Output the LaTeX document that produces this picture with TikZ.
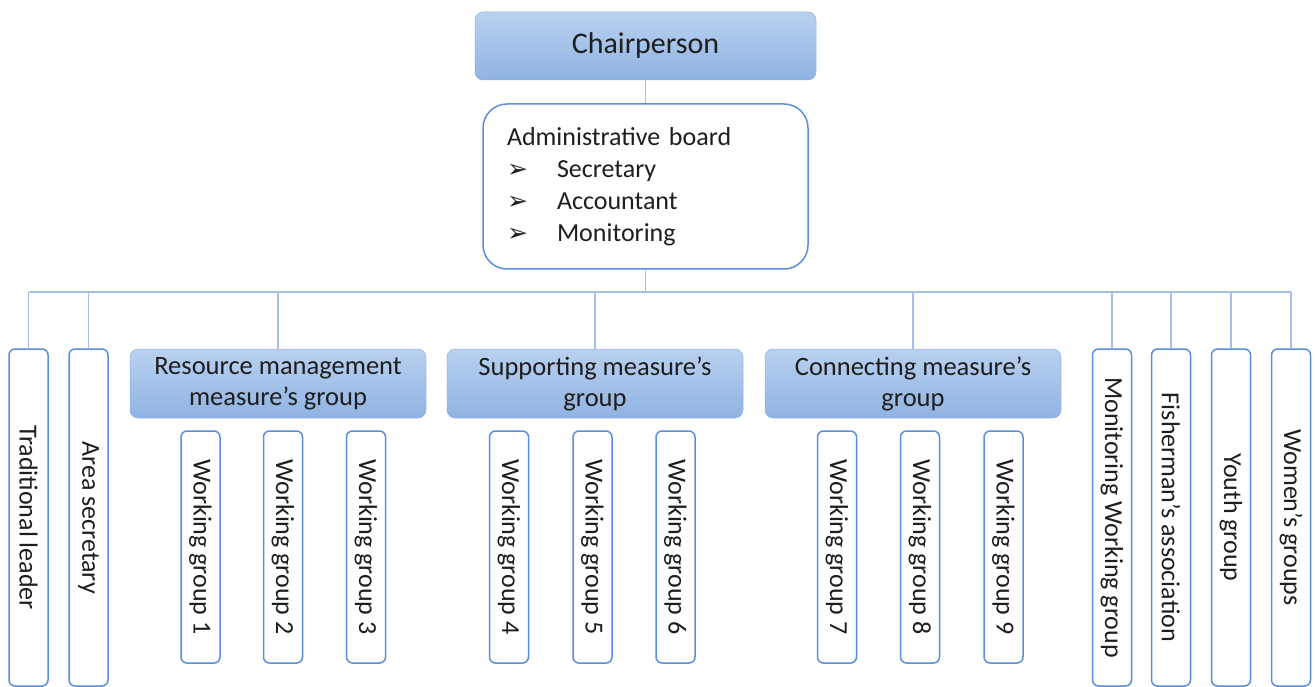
\documentclass[tikz,border=0pt]{standalone}
\usepackage{fontspec}
\setmainfont{Carlito}
\newfontfamily\arrowfont{DejaVu Sans}
\usepackage{tikz}
\usetikzlibrary{positioning}

\definecolor{boxline}{HTML}{5B8EDC}
\definecolor{linkline}{HTML}{A6BFEA}
\definecolor{shadetop}{HTML}{B9D1F0}
\definecolor{shadebot}{HTML}{8FB3E2}
\definecolor{inktext}{HTML}{1E1E1E}
\newcommand{\boardarrow}{\makebox[50pt][l]{\arrowfont\fontsize{25}{25}\selectfont ➢}}

\begin{document}
\begin{tikzpicture}[x=1pt,y=-1pt,
    headbox/.style={rounded corners=8pt,top color=shadetop,bottom color=shadebot,
        draw=shadebot,line width=0.5pt,text=inktext,align=center,inner sep=0pt},
    board/.style={draw=boxline,line width=1.5pt,rounded corners=24pt,fill=white,
        text width=277pt,inner xsep=24pt,align=left,minimum height=165pt,
        text=inktext,font=\fontsize{26}{32}\selectfont},
    vbox/.style={rotate=-90,draw=boxline,line width=1.5pt,rounded corners=6pt,fill=white,
        minimum height=39pt,inner sep=0pt,text=inktext,font=\fontsize{26}{30}\selectfont},
    link/.style={draw=linkline,line width=1.5pt}]
		\useasboundingbox (0,0) rectangle (1315,687);

		\node[headbox,minimum width=341pt,minimum height=68pt,font=\fontsize{30}{34}\selectfont] (chair) at (645.5,46) {Chairperson};
		\node[board] (board) at (645.5,186.5) {Administrative board\\ \boardarrow Secretary\\ \boardarrow Accountant\\ \boardarrow Monitoring};

		\node[headbox,minimum width=296pt,minimum height=69pt,font=\fontsize{26.5}{31}\selectfont] (rmg) at (278,383.5) {Resource management\\measure’s group};
		\node[headbox,minimum width=296pt,minimum height=69pt,font=\fontsize{26.5}{31}\selectfont] (smg) at (595,383.5) {Supporting measure’s\\group};
		\node[headbox,minimum width=296pt,minimum height=69pt,font=\fontsize{26.5}{31}\selectfont] (cmg) at (913,383.5) {Connecting measure’s\\group};

		\node[vbox,minimum width=337pt] (tl) at (28.5,517.5) {Traditional leader};
		\node[vbox,minimum width=337pt] (area) at (88.5,517.5) {Area secretary};
		\node[vbox,minimum width=337pt] (mwg) at (1112,517.5) {Monitoring Working group};
		\node[vbox,minimum width=337pt] (fish) at (1171,517.5) {Fisherman’s association};
		\node[vbox,minimum width=337pt] (youth) at (1231,517.5) {Youth group};
		\node[vbox,minimum width=337pt] (women) at (1291,517.5) {Women’s groups};

		\foreach \x/\k in {200.5/1,283/2,366/3,509/4,592.5/5,675.5/6,837/7,920/8,1003.5/9} {
		    \node[vbox,minimum width=232pt] (wg\k) at (\x,547) {Working group \k};
		};

		\coordinate (bus) at (645.5,292);
		\draw[link] (chair) -- (board);
		\draw[link] (board.south) -- (bus);
		\draw[link] (tl.west |- bus) -- (women.west |- bus);
		\foreach \n in {tl,area,mwg,fish,youth,women} {
		    \draw[link] (\n.west |- bus) -- (\n.west);
		};
		\foreach \n in {rmg,smg,cmg} {
		    \draw[link] (\n.north |- bus) -- (\n.north);
		};
\end{tikzpicture}
\end{document}
